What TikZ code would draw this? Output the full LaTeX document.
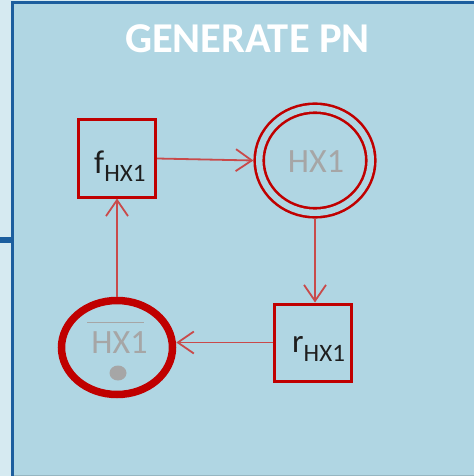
\documentclass[tikz,border=0pt]{standalone}
\usepackage{fontspec}
\setmainfont{Carlito}
\usepackage{tikz}
\usetikzlibrary{arrows.meta}
\usetikzlibrary{shapes.geometric}
\usetikzlibrary{positioning}
\definecolor{panelblue}{HTML}{B0D6E3}
\definecolor{stripblue}{HTML}{D6EAF1}
\definecolor{frameblue}{HTML}{1C5E9E}
\definecolor{netred}{HTML}{C00000}
\definecolor{linkred}{HTML}{C94A4A}
\definecolor{tokengray}{HTML}{A6A6A6}
\definecolor{inkdark}{HTML}{1E1E1E}

\begin{document}
\begin{tikzpicture}[
            x=1pt, y=-1pt,
            transition/.style={
                draw=netred, line width=3pt, outer sep=1.5pt,
                minimum width=77pt, minimum height=77pt, inner sep=0pt,
            },
            place/.style={
                ellipse, draw=netred, inner sep=0pt,
            },
            marking/.style={
                anchor=base, inner sep=0pt, text=tokengray,
                font=\fontsize{34}{34}\selectfont,
            },
            tname/.style={
                anchor=base west, inner sep=0pt, text=inkdark,
            },
            flow/.style={-{Straight Barb[length=16pt, width=22pt]}, line width=1.8pt, linkred},
        ]
            \useasboundingbox (0,0) rectangle (474,476);
            % --- panel ---
            \fill[stripblue] (0,0) rectangle (474,476);
            \fill[panelblue] (12,2) rectangle (474,476);
            \draw[frameblue, line width=3pt] (12.5,476) -- (12.5,2.5) -- (474,2.5);
            \draw[panelblue!85!black, line width=1pt] (14,475) -- (474,475);
            \draw[frameblue, line width=6pt] (0,240) -- (12,240);
            \node[anchor=base, inner sep=0pt, text=white,
                font=\bfseries\fontsize{42.5}{42.5}\selectfont] (title) at (247.5,53) {GENERATE PN};

            % --- transitions ---
            \node[transition] (f) at (117,158.5) {};
            \node[transition] (r) at (313,342.5) {};
            \node[tname] (flab) at (94,173)
                {{\fontsize{33}{33}\selectfont f}\raisebox{-8pt}{\fontsize{25}{25}\selectfont HX1}};
            \node[tname] (rlab) at (292,352)
                {{\fontsize{33}{33}\selectfont r}\raisebox{-9pt}{\fontsize{25}{25}\selectfont HX1}};

            % --- places ---
            \node[place, line width=2.6pt, double=panelblue, double distance=6.4pt,
                outer sep=5.8pt, minimum width=111.6pt, minimum height=104.6pt] (hx) at (315,160.5) {};
            \node[marking] (hxlab) at (316,172) {HX1};

            \node[place, line width=7.5pt, outer sep=3.75pt,
                minimum width=111pt, minimum height=94pt] (hxbar) at (117,347.5) {};
            \node[marking] (hxbarlab) at (119.5,353)
                {\makebox[0pt][l]{\hspace{-4pt}\rule[30pt]{57pt}{1.3pt}}HX1};
            \node[ellipse, fill=tokengray, inner sep=0pt,
                minimum width=17pt, minimum height=15pt] (token) at (118,373) {};

            % --- arcs ---
            \draw[flow] (f.east) -- (hx.west);
            \draw[flow] (hx.south) -- (hx.south |- r.north);
            \draw[flow] (r.west) -- (r.west -| hxbar.east);
            \draw[flow] (hxbar.north) -- (f.south);
        \end{tikzpicture}
\end{document}
